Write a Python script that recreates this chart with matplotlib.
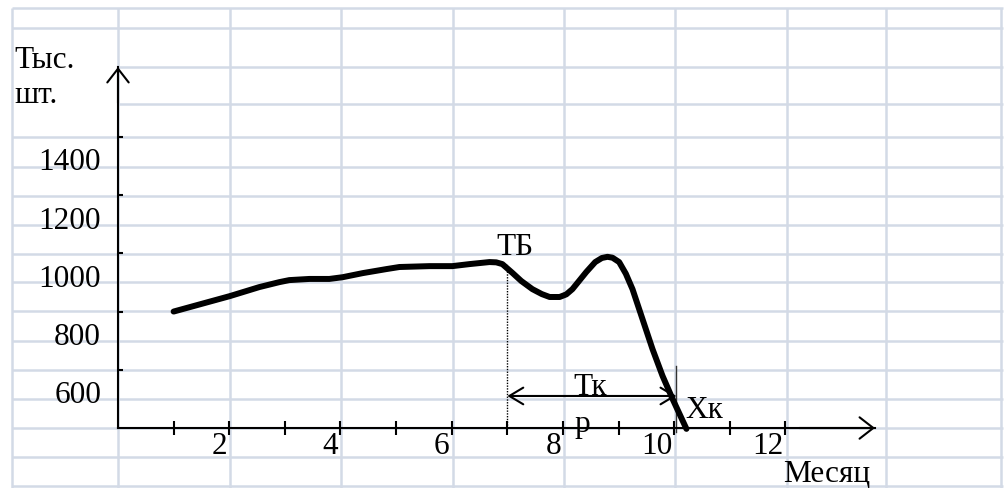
import numpy as np
import matplotlib
matplotlib.use("Agg")
import matplotlib.pyplot as plt

plt.rcParams['font.family'] = ['Liberation Serif', 'DejaVu Serif']

# curve: month -> thousand pieces
months = [1.0, 2.01, 2.54, 2.90, 3.08, 3.44, 3.80, 4.04, 4.40, 4.83, 5.06, 5.60,
          6.01, 6.32, 6.68, 6.80, 6.91, 7.09, 7.25, 7.45, 7.62, 7.76, 7.94, 8.06,
          8.17, 8.42, 8.58, 8.70, 8.80, 8.89, 9.01, 9.13, 9.25, 9.43, 9.61, 9.79,
          9.97, 10.22]
values = [800, 853, 884, 901, 908, 912, 912, 918, 932, 946, 953, 956,
          956, 963, 970, 969, 963, 933, 905, 877, 860, 850, 850, 859,
          877, 936, 970, 984, 988, 985, 970, 930, 877, 774, 671, 579,
          500, 397]

x_ticks = list(range(1, 13))
x_labels = [2, 4, 6, 8, 10, 12]
y_ticks = [600, 800, 1000, 1200, 1400]

tb_month, tb_value = 7.0, 965      # ТБ point
xk_month = 10.04                   # Хк point
tk_level = 510                     # height of the Тк arrow

# spreadsheet grid behind the drawing (pixel layout)
cols = [12, 118, 230, 341, 453, 564, 675, 787, 886, 1001]
rows = [9, 29, 68, 105, 138, 168, 197, 226, 255, 283, 312, 342, 371, 400, 429, 458, 487]
merged_rows = [68, 105]   # these stop at the first column (merged cell)

W, H = 1005, 489
fig = plt.figure(figsize=(W / 100, H / 100), dpi=100)

bg = fig.add_axes([0, 0, 1, 1])
bg.set_xlim(0, W)
bg.set_ylim(H, 0)
bg.axis('off')
gcol = '#D3DAE6'
for c in cols:
    bg.plot([c, c], [rows[0], H], color=gcol, lw=1.8, solid_capstyle='butt')
for r in rows:
    x0 = cols[1] if r in merged_rows else cols[0]
    bg.plot([x0, 1003], [r, r], color=gcol, lw=1.8, solid_capstyle='butt')

# chart axes: month 0 at the y axis, 400 at the x axis
ax = fig.add_axes([118 / W, 1 - 429 / H, (875 - 118) / W, (429 - 68) / H])
ax.set_facecolor('none')
ax.set_xlim(0, 13.61)
ax.set_ylim(400, 1640)
for s in ['top', 'right']:
    ax.spines[s].set_visible(False)
for s in ['left', 'bottom']:
    ax.spines[s].set_linewidth(1.5)
    ax.spines[s].set_color('black')

ax.set_xticks(x_ticks)
ax.set_xticklabels([])
ax.set_yticks(y_ticks)
ax.set_yticklabels([])
ax.tick_params(axis='x', direction='inout', length=9.5, width=1.5)
ax.tick_params(axis='y', direction='in', length=3.5, width=1.5)

# axis arrows
arr = dict(arrowstyle='->,head_length=0.45,head_width=0.35', lw=1.5,
           color='black', mutation_scale=22, shrinkA=0, shrinkB=0)
ax.annotate('', xy=(0, 1), xytext=(0, 0.9), xycoords='axes fraction', arrowprops=arr)
ax.annotate('', xy=(1, 0), xytext=(0.9, 0), xycoords='axes fraction', arrowprops=arr)

fs = 22.5
for v in y_ticks:
    ax.annotate(str(v), xy=(0, v), xytext=(-17, -25), textcoords='offset pixels',
                ha='right', va='center', fontsize=fs, annotation_clip=False)
for m in x_labels:
    ax.annotate(str(m), xy=(m, 400), xytext=(-2, -18), textcoords='offset pixels',
                ha='right', va='center', fontsize=fs, annotation_clip=False)

# the curve
ax.plot(months, values, color='black', lw=4.3, solid_capstyle='round',
        solid_joinstyle='round', clip_on=False, zorder=5)

# ТБ dotted drop line, Хк mark, Тк span
ax.plot([tb_month, tb_month], [400, tb_value], color='black', lw=1.0, ls=(0, (1, 1)))
ax.plot([xk_month, xk_month], [613, 386], color='#333333', lw=1.0, clip_on=False)
ax.annotate('', xy=(tb_month, tk_level), xytext=(xk_month, tk_level),
            arrowprops=dict(arrowstyle='<->,head_length=0.5,head_width=0.3', lw=1.5,
                            color='black', mutation_scale=20, shrinkA=0, shrinkB=0))

ax.text(7.14, 1025, 'ТБ', fontsize=fs, ha='center', va='center')
ax.text(8.49, 544, 'Тк', fontsize=fs, ha='center', va='center')
ax.text(8.2, 390, 'р', fontsize=fs, ha='left', va='baseline')
ax.text(10.2, 465, 'Хк', fontsize=fs, ha='left', va='center')
ax.text(11.96, 242, 'Месяц', fontsize=fs, ha='left', va='center')

fig.text(14 / W, 1 - 78 / H, 'Тыс.\nшт.', fontsize=fs, ha='left', va='center',
         linespacing=1.3)

fig.savefig('out.png', dpi=100)
